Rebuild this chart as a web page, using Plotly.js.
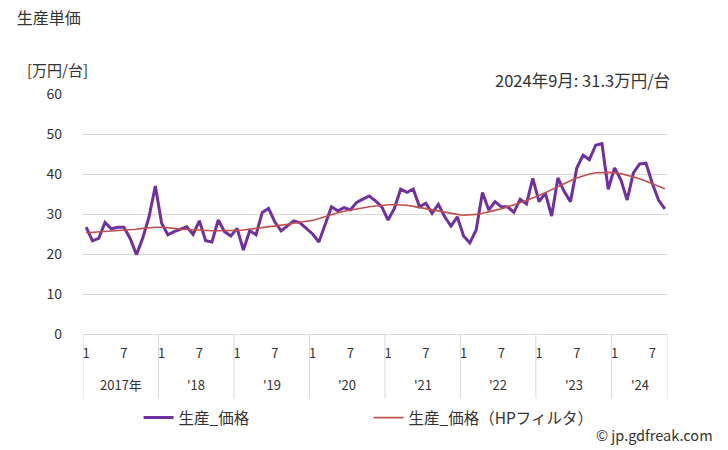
<!DOCTYPE html>
<html>
<head>
<meta charset="utf-8">
<script src="https://cdn.plot.ly/plotly-3.0.1.min.js"></script>
<style>
  body { margin: 0; background: #fff; }
  #chart { width: 728px; height: 450px; }
</style>
</head>
<body>
<div id="chart"></div>
<script>
// Data: monthly unit price, Jan 2017 .. Sep 2024 (万円/台)
const yearLabels = ['2017年', "'18", "'19", "'20", "'21", "'22", "'23", "'24"];
const monthsInYear = [12, 12, 12, 12, 12, 12, 12, 9];

const price = [
  26.7, 23.3, 23.9, 27.9, 26.3, 26.7, 26.7, 23.9, 19.8, 24.0, 29.3, 37.0,
  27.7, 24.8, 25.6, 26.2, 26.8, 24.9, 28.3, 23.3, 23.0, 28.5, 25.6, 24.5,
  26.4, 21.0, 25.8, 24.8, 30.4, 31.4, 28.0, 25.8, 27.1, 28.3, 27.8, 26.4,
  25.0, 23.0, 27.2, 31.8, 30.8, 31.6, 31.0, 32.9, 33.7, 34.5, 33.3, 31.8,
  28.5, 31.4, 36.2, 35.4, 36.2, 31.8, 32.7, 30.2, 32.4, 29.3, 27.0, 29.3,
  24.5, 22.8, 26.0, 35.4, 31.0, 33.1, 31.8, 31.8, 30.4, 33.7, 32.5, 38.9,
  33.1, 35.2, 29.5, 39.0, 35.6, 33.1, 41.5, 44.7, 43.6, 47.2, 47.6, 36.2,
  41.5, 38.6, 33.5, 40.3, 42.5, 42.7, 37.7, 33.5, 31.3
];

const priceHP = [
  25.3, 25.4, 25.5, 25.6, 25.7, 25.8, 25.9, 26.0, 26.2, 26.4, 26.6, 26.7,
  26.7, 26.6, 26.4, 26.2, 26.1, 26.0, 25.9, 25.8, 25.8, 25.8, 25.8, 25.8,
  25.9, 26.0, 26.2, 26.3, 26.5, 26.7, 26.9, 27.1, 27.4, 27.7, 28.0, 28.2,
  28.4, 28.9, 29.4, 29.9, 30.3, 30.7, 31.0, 31.3, 31.6, 31.8, 32.0, 32.2,
  32.3, 32.3, 32.3, 32.2, 31.9, 31.6, 31.3, 31.0, 30.7, 30.4, 30.1, 29.9,
  29.7, 29.8, 29.9, 30.2, 30.5, 30.9, 31.3, 31.8, 32.2, 32.8, 33.4, 34.0,
  34.6, 35.3, 36.1, 36.9, 37.6, 38.3, 39.0, 39.5, 40.0, 40.3, 40.4, 40.4,
  40.3, 40.1, 39.7, 39.3, 38.8, 38.2, 37.6, 37.0, 36.3
];

const latestLabel = '2024年9月';
const unit = '万円/台';

// x positions = month index
const idx = price.map((_, i) => i);
const tickVals = [];
const tickText = [];
const yearStarts = [];
let start = 0;
monthsInYear.forEach(n => {
  yearStarts.push(start);
  tickVals.push(start);
  tickText.push('1');
  if (n > 6) { tickVals.push(start + 6); tickText.push('7'); }
  start += n;
});

const font = '"Noto Sans CJK JP", "Noto Sans", sans-serif';
const grey = '#d9d9d9';

// year separators below the axis
const shapes = [];
yearStarts.concat([price.length]).forEach(s => {
  shapes.push({
    type: 'line', xref: 'x', yref: 'paper',
    x0: s - 0.5, x1: s - 0.5, y0: 0, y1: -0.27,
    line: { color: grey, width: 1 }
  });
});

const annotations = yearLabels.map((lab, k) => ({
  x: yearStarts[k] + (monthsInYear[k] - 1) / 2,
  y: -0.21, xref: 'x', yref: 'paper', yanchor: 'middle',
  text: lab, showarrow: false,
  font: { size: 13, color: '#333' }
}));
annotations.push({
  xref: 'paper', yref: 'paper', x: -0.1, y: 1.1, xanchor: 'left', yanchor: 'middle',
  text: '[' + unit + ']', showarrow: false, font: { size: 15, color: '#333' }
});
annotations.push({
  xref: 'paper', yref: 'paper', x: 1.007, y: 1.06, xanchor: 'right', yanchor: 'middle',
  text: latestLabel + ': ' + price[price.length - 1] + unit, showarrow: false,
  font: { size: 16.5, color: '#333' }
});
annotations.push({
  xref: 'paper', yref: 'paper', x: 1.08, y: -0.42, xanchor: 'right', yanchor: 'middle',
  text: '© jp.gdfreak.com', showarrow: false, font: { size: 14.5, color: '#333' }
});

const traces = [
  {
    x: idx, y: price, type: 'scatter', mode: 'lines', name: '生産_価格',
    line: { color: '#7030a0', width: 3 }
  },
  {
    x: idx, y: priceHP, type: 'scatter', mode: 'lines', name: '生産_価格（HPフィルタ）',
    line: { color: '#c0504d', width: 1.6 }
  }
];

const layout = {
  width: 728, height: 450,
  margin: { l: 83, r: 60, t: 94, b: 116 },
  paper_bgcolor: '#fff', plot_bgcolor: '#fff',
  font: { family: font, color: '#333' },
  title: {
    text: '生産単価', x: 0.023, xanchor: 'left', y: 0.96, yanchor: 'middle',
    font: { size: 16, color: '#333' }
  },
  xaxis: {
    range: [-0.5, price.length - 0.5],
    tickmode: 'array', tickvals: tickVals, ticktext: tickText,
    tickfont: { size: 13, color: '#333' },
    showgrid: false, zeroline: false, showline: true, linecolor: grey,
    ticks: '', ticklabelstandoff: 7, fixedrange: true
  },
  yaxis: {
    range: [0, 60], dtick: 10, tick0: 0,
    showgrid: true, gridcolor: grey, zeroline: false, showline: false,
    tickfont: { size: 14, color: '#333' }, ticks: '', ticklabelstandoff: 20
  },
  showlegend: true,
  legend: {
    orientation: 'h', x: 0.095, xanchor: 'left', y: -0.35, yanchor: 'middle',
    font: { size: 15.5, color: '#333' }, entrywidth: 185, entrywidthmode: 'pixels',
    itemwidth: 30
  },
  shapes: shapes,
  annotations: annotations
};

Plotly.newPlot('chart', traces, layout, { displayModeBar: false, staticPlot: true });
</script>
</body>
</html>
